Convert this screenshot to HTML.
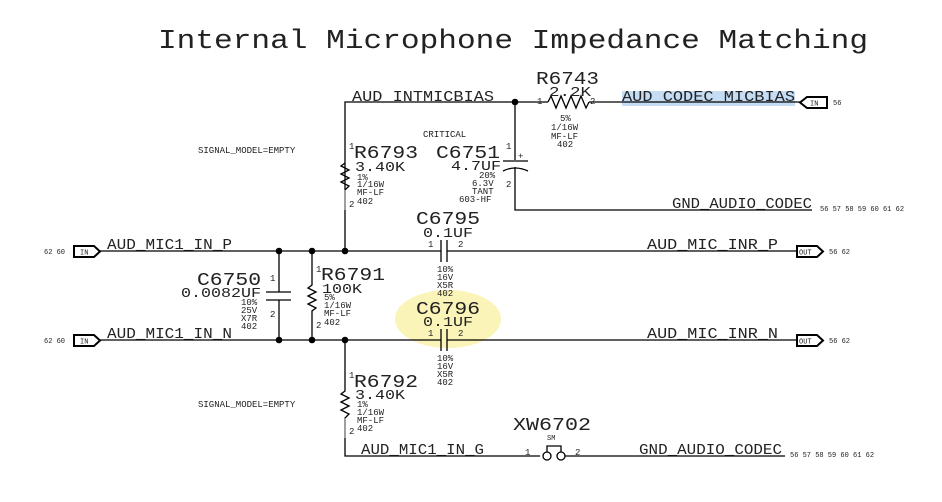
<!DOCTYPE html>
<html><head><meta charset="utf-8"><style>
html,body{margin:0;padding:0;background:#fff;}
svg{display:block;}
text{font-family:"Liberation Mono",monospace;fill:#222;}
.l{font-size:15px;}
.n{font-size:18px;}
.v{font-size:14px;}
.s{font-size:9px;}
.p{font-size:9px;}
.t{font-size:7px;}
</style></head><body>
<svg width="942" height="502" viewBox="0 0 942 502" xmlns="http://www.w3.org/2000/svg">
<rect width="942" height="502" fill="#fff"/>
<ellipse cx="448" cy="319" rx="53" ry="29" fill="#fbf4b8"/>
<rect x="622" y="91" width="173" height="15" fill="#c5dcf5"/>
<text x="158" y="48" font-size="27" textLength="710" lengthAdjust="spacingAndGlyphs">Internal Microphone Impedance Matching</text>

<g stroke="#000" stroke-width="1.3" fill="none">
<polyline points="345,250 345,102 548,102"/>
<polyline points="589,102 800,102"/>
<polyline points="548,102 551,96 556,108 561,96 566,108 571,96 576,108 581,96 586,108 589,102"/>
<polyline points="515,102 515,160"/>
<line x1="503" y1="161" x2="528" y2="161"/>
<path d="M503,171 Q515,165 528,171"/>
<polyline points="515,167 515,210 812,210"/>
<polyline points="345,163 341,166 349,170 341,174 349,178 341,182 349,186 345,190"/>
<line x1="100" y1="251" x2="441" y2="251"/>
<line x1="447" y1="251" x2="797" y2="251"/>
<line x1="100" y1="340" x2="441" y2="340"/>
<line x1="447" y1="340" x2="797" y2="340"/>
<line x1="441" y1="240" x2="441" y2="262"/>
<line x1="447" y1="240" x2="447" y2="262"/>
<line x1="441" y1="329" x2="441" y2="351"/>
<line x1="447" y1="329" x2="447" y2="351"/>
<polyline points="279,251 279,292"/>
<line x1="266" y1="292" x2="291" y2="292"/>
<line x1="266" y1="300" x2="291" y2="300"/>
<polyline points="279,300 279,340"/>
<polyline points="312,251 312,285 308,288 316,292 308,296 316,300 308,304 316,308 312,311 312,340"/>
<polyline points="345,340 345,391 341,394 349,398 341,402 349,406 341,410 349,414 345,418 345,456 540,456"/>
<polyline points="565,456 785,456"/>
<circle cx="547" cy="456" r="4"/>
<circle cx="561" cy="456" r="4"/>
<polyline points="547,452 547,446 561,446 561,452"/>
<path d="M74,246 H94 L100,251.5 L94,257 H74 Z" stroke-width="2"/>
<path d="M74,335 H94 L100,340.5 L94,346 H74 Z" stroke-width="2"/>
<path d="M827,97 H807 L800,102.5 L807,108 H827 Z" stroke-width="2"/>
<path d="M797,246 H817 L823,251.5 L817,257 H797 Z" stroke-width="2"/>
<path d="M797,335 H817 L823,340.5 L817,346 H797 Z" stroke-width="2"/>
</g>
<line x1="345" y1="190" x2="345" y2="210" stroke="#999" stroke-width="1.5"/>
<line x1="345" y1="418" x2="345" y2="438" stroke="#999" stroke-width="1.5"/>
<g fill="#000">
<circle cx="515" cy="102" r="3.3"/>
<circle cx="279" cy="251" r="3.3"/><circle cx="312" cy="251" r="3.3"/><circle cx="345" cy="251" r="3.3"/>
<circle cx="279" cy="340" r="3.3"/><circle cx="312" cy="340" r="3.3"/><circle cx="345" cy="340" r="3.3"/>
</g>

<text class="t" x="80" y="254.5">IN</text>
<text class="t" x="80" y="343.5">IN</text>
<text class="t" x="810" y="105.5">IN</text>
<text class="t" x="799" y="254.5">OUT</text>
<text class="t" x="799" y="343.5">OUT</text>
<text class="t" x="44" y="254">62 60</text>
<text class="t" x="44" y="343">62 60</text>
<text class="t" x="833" y="105">56</text>
<text class="t" x="829" y="254">56 62</text>
<text class="t" x="829" y="343">56 62</text>
<text class="t" x="820" y="211">56 57 58 59 60 61 62</text>
<text class="t" x="790" y="457">56 57 58 59 60 61 62</text>

<text class="l" x="352" y="101" textLength="142" lengthAdjust="spacingAndGlyphs">AUD_INTMICBIAS</text>
<text class="l" x="622" y="101" textLength="173" lengthAdjust="spacingAndGlyphs">AUD_CODEC_MICBIAS</text>
<text class="l" x="672" y="208" textLength="140" lengthAdjust="spacingAndGlyphs">GND_AUDIO_CODEC</text>
<text class="l" x="107" y="249" textLength="125" lengthAdjust="spacingAndGlyphs">AUD_MIC1_IN_P</text>
<text class="l" x="107" y="338" textLength="125" lengthAdjust="spacingAndGlyphs">AUD_MIC1_IN_N</text>
<text class="l" x="647" y="249" textLength="131" lengthAdjust="spacingAndGlyphs">AUD_MIC_INR_P</text>
<text class="l" x="647" y="338" textLength="131" lengthAdjust="spacingAndGlyphs">AUD_MIC_INR_N</text>
<text class="l" x="361" y="454" textLength="123" lengthAdjust="spacingAndGlyphs">AUD_MIC1_IN_G</text>
<text class="l" x="639" y="454" textLength="143" lengthAdjust="spacingAndGlyphs">GND_AUDIO_CODEC</text>

<text class="n" x="536" y="84" textLength="63" lengthAdjust="spacingAndGlyphs">R6743</text>
<text class="v" x="549" y="96" textLength="42" lengthAdjust="spacingAndGlyphs">2.2K</text>
<text class="p" x="537" y="104">1</text><text class="p" x="590" y="104">2</text>
<text class="s" x="560" y="121">5%</text>
<text class="s" x="551" y="130">1/16W</text>
<text class="s" x="551" y="139">MF-LF</text>
<text class="s" x="557" y="147">402</text>

<text class="s" x="198" y="153">SIGNAL_MODEL=EMPTY</text>
<text class="s" x="423" y="137">CRITICAL</text>
<text class="p" x="349" y="149">1</text>
<text class="n" x="354" y="158" textLength="64" lengthAdjust="spacingAndGlyphs">R6793</text>
<text class="v" x="355" y="171" textLength="50" lengthAdjust="spacingAndGlyphs">3.40K</text>
<text class="s" x="357" y="180">1%</text>
<text class="s" x="357" y="187">1/16W</text>
<text class="s" x="357" y="195">MF-LF</text>
<text class="s" x="357" y="204">402</text>
<text class="p" x="349" y="207">2</text>
<text class="n" x="436" y="158" textLength="64" lengthAdjust="spacingAndGlyphs">C6751</text>
<text class="v" x="451" y="170" textLength="50" lengthAdjust="spacingAndGlyphs">4.7UF</text>
<text class="p" x="506" y="149">1</text><text class="p" x="506" y="187">2</text>
<text class="s" x="518" y="159" font-size="10">+</text>
<text class="s" x="479" y="178">20%</text>
<text class="s" x="472" y="186">6.3V</text>
<text class="s" x="472" y="194">TANT</text>
<text class="s" x="459" y="202">603-HF</text>

<text class="n" x="416" y="224" textLength="64" lengthAdjust="spacingAndGlyphs">C6795</text>
<text class="v" x="423" y="237" textLength="50" lengthAdjust="spacingAndGlyphs">0.1UF</text>
<text class="p" x="428" y="247">1</text><text class="p" x="458" y="247">2</text>
<text class="s" x="437" y="272">10%</text>
<text class="s" x="437" y="280">16V</text>
<text class="s" x="437" y="288">X5R</text>
<text class="s" x="437" y="296">402</text>

<text class="n" x="416" y="314" textLength="64" lengthAdjust="spacingAndGlyphs" fill="#555">C6796</text>
<text class="v" x="423" y="326" textLength="50" lengthAdjust="spacingAndGlyphs">0.1UF</text>
<text class="p" x="428" y="336">1</text><text class="p" x="458" y="336">2</text>
<text class="s" x="437" y="361">10%</text>
<text class="s" x="437" y="369">16V</text>
<text class="s" x="437" y="377">X5R</text>
<text class="s" x="437" y="385">402</text>

<text class="n" x="197" y="285" textLength="64" lengthAdjust="spacingAndGlyphs">C6750</text>
<text class="v" x="181" y="297" textLength="80" lengthAdjust="spacingAndGlyphs">0.0082UF</text>
<text class="p" x="270" y="281">1</text><text class="p" x="270" y="317">2</text>
<text class="s" x="241" y="305">10%</text>
<text class="s" x="241" y="313">25V</text>
<text class="s" x="241" y="321">X7R</text>
<text class="s" x="241" y="329">402</text>

<text class="p" x="316" y="272">1</text>
<text class="n" x="321" y="280" textLength="64" lengthAdjust="spacingAndGlyphs">R6791</text>
<text class="v" x="322" y="293" textLength="40" lengthAdjust="spacingAndGlyphs">100K</text>
<text class="s" x="324" y="300">5%</text>
<text class="s" x="324" y="308">1/16W</text>
<text class="s" x="324" y="316">MF-LF</text>
<text class="s" x="324" y="325">402</text>
<text class="p" x="316" y="328">2</text>

<text class="s" x="198" y="407">SIGNAL_MODEL=EMPTY</text>
<text class="p" x="349" y="378">1</text>
<text class="n" x="354" y="387" textLength="64" lengthAdjust="spacingAndGlyphs">R6792</text>
<text class="v" x="355" y="399" textLength="50" lengthAdjust="spacingAndGlyphs">3.40K</text>
<text class="s" x="357" y="407">1%</text>
<text class="s" x="357" y="415">1/16W</text>
<text class="s" x="357" y="423">MF-LF</text>
<text class="s" x="357" y="431">402</text>
<text class="p" x="349" y="434">2</text>

<text class="n" x="513" y="430" textLength="78" lengthAdjust="spacingAndGlyphs">XW6702</text>
<text class="t" x="547" y="440">SM</text>
<text class="p" x="525" y="455">1</text><text class="p" x="575" y="455">2</text>
</svg>
</body></html>
